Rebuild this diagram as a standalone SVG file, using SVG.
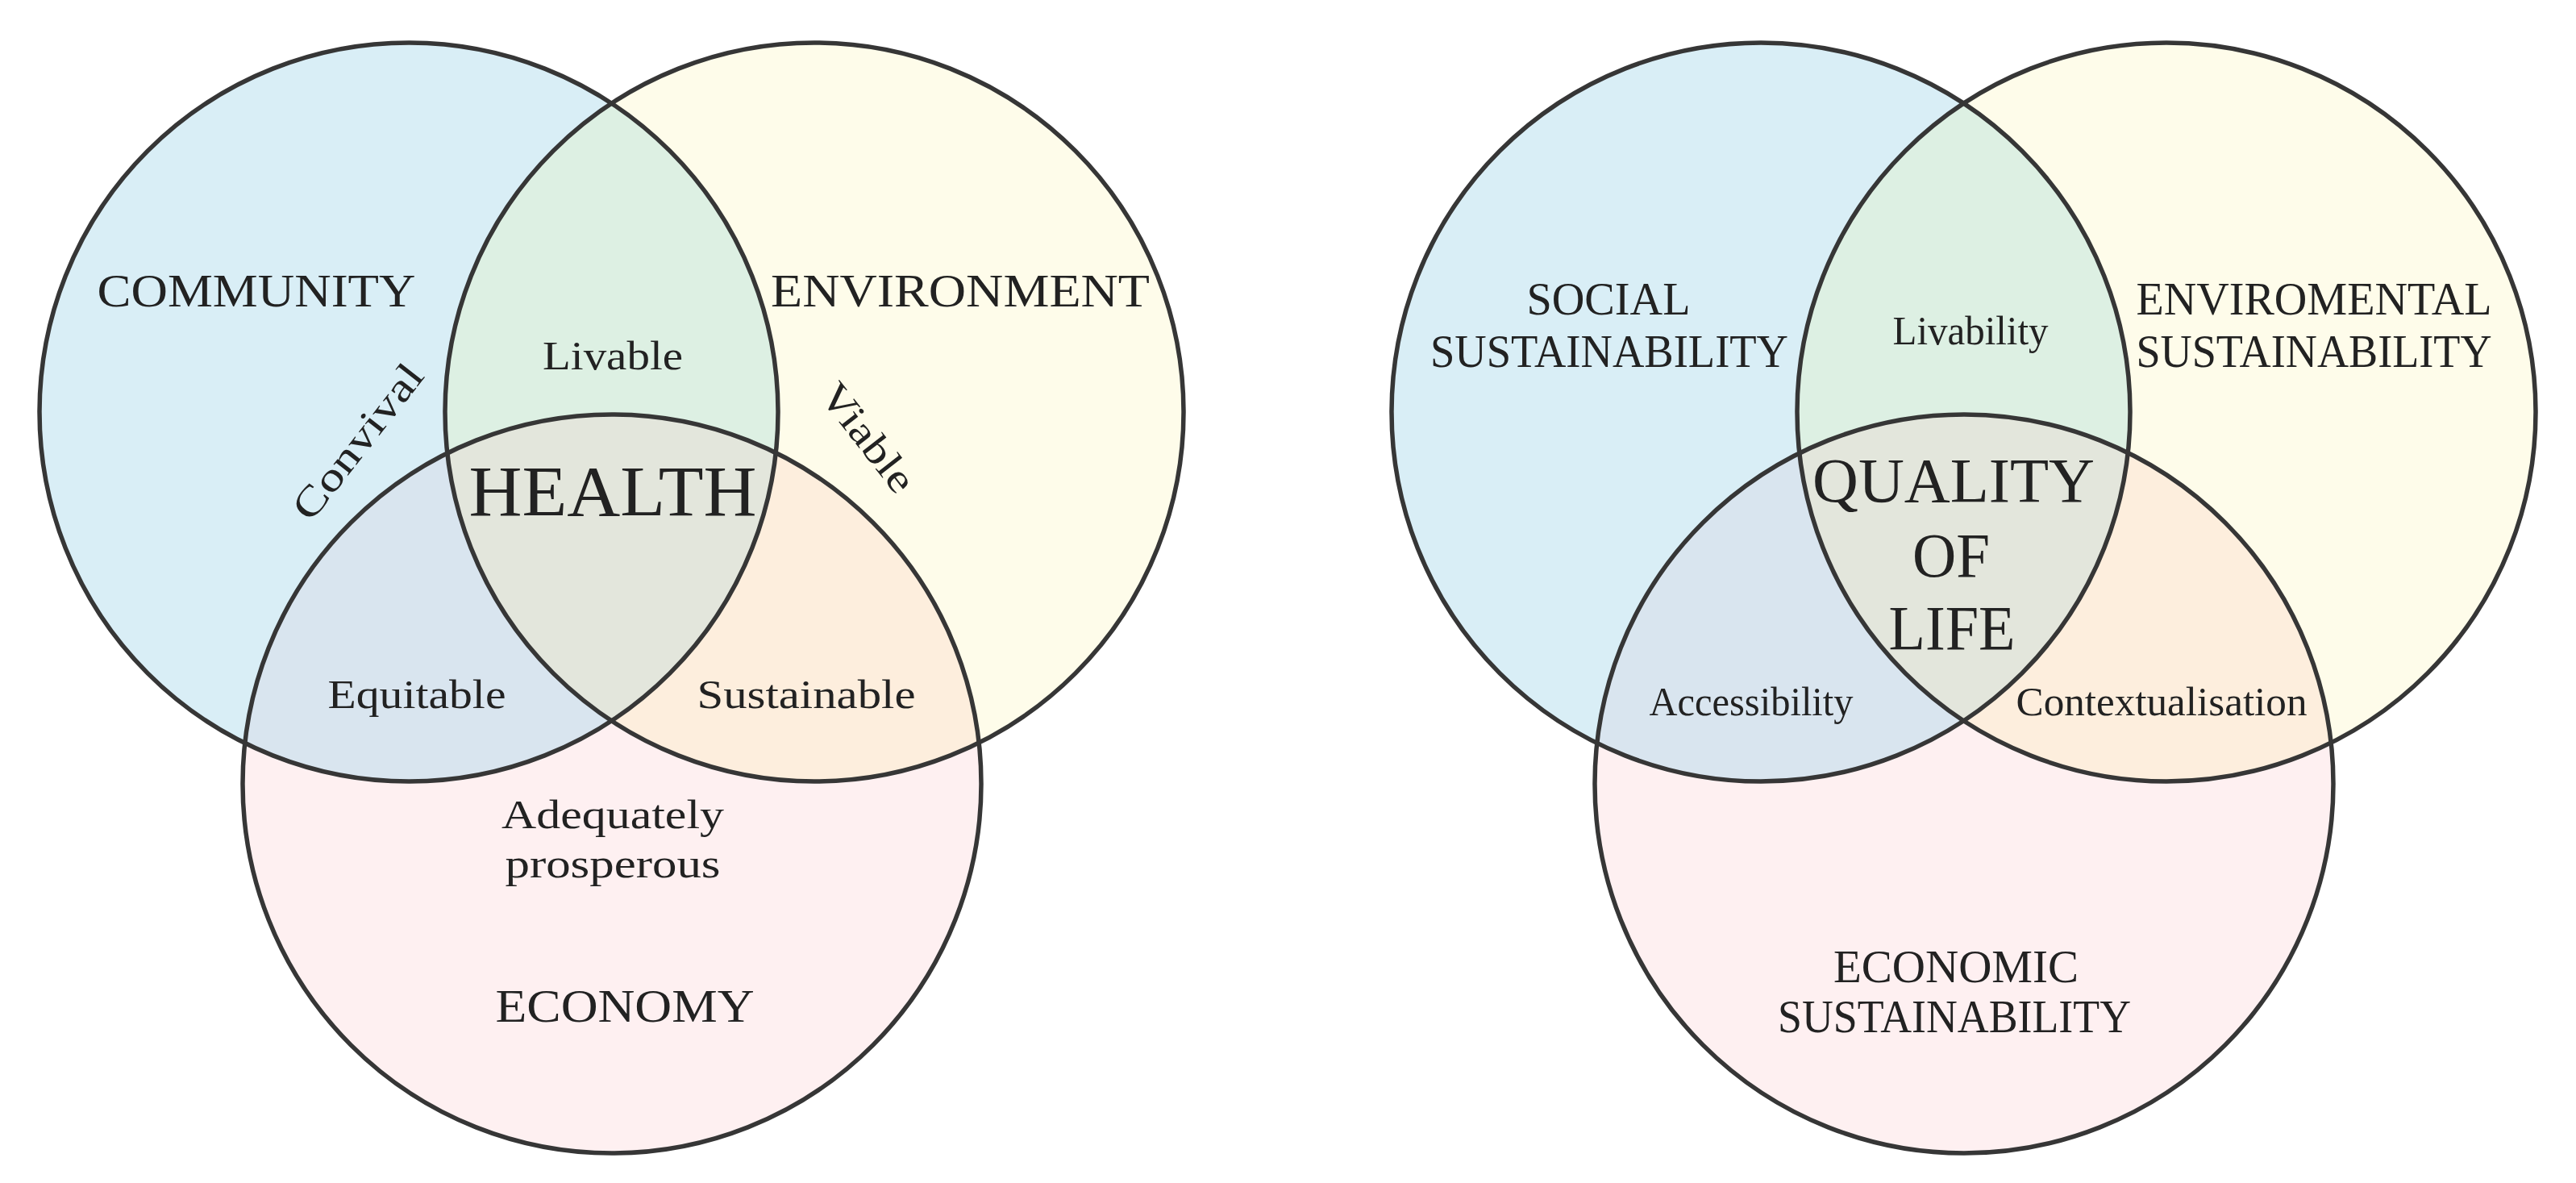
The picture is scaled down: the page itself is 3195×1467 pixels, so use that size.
<svg xmlns="http://www.w3.org/2000/svg" width="3195" height="1467" viewBox="0 0 3195 1467">
<style>
.ring{fill:none;stroke:#363636;stroke-width:5.5}
text{font-family:"Liberation Serif","Times New Roman",serif;fill:#222;text-anchor:middle}
.big{font-size:57px}
.sm{font-size:50px}
.core{font-size:89px}
.core2{font-size:78px}
</style>
<defs>
<clipPath id="lA"><circle cx="507" cy="511" r="458"/></clipPath>
<clipPath id="lB"><circle cx="1010" cy="511" r="458"/></clipPath>
<clipPath id="rA"><circle cx="2184" cy="511" r="458"/></clipPath>
<clipPath id="rB"><circle cx="2687" cy="511" r="458"/></clipPath>
</defs>
<rect width="3195" height="1467" fill="#ffffff"/>

<!-- left diagram fills -->
<g id="left-fills">
<circle cx="507" cy="511" r="458" fill="#d9eef6"/>
<circle cx="1010" cy="511" r="458" fill="#fefcea"/>
<circle cx="759" cy="972" r="458" fill="#fef0f1"/>
<g clip-path="url(#lA)"><circle cx="1010" cy="511" r="458" fill="#ddf0e3"/><circle cx="759" cy="972" r="458" fill="#d9e5ef"/></g>
<g clip-path="url(#lB)"><circle cx="759" cy="972" r="458" fill="#fdeedd"/></g>
<g clip-path="url(#lA)"><g clip-path="url(#lB)"><circle cx="759" cy="972" r="458" fill="#e3e6dc"/></g></g>
</g>

<!-- right diagram fills -->
<g id="right-fills">
<circle cx="2184" cy="511" r="458" fill="#d9eef6"/>
<circle cx="2687" cy="511" r="458" fill="#fefcea"/>
<circle cx="2436" cy="972" r="458" fill="#fef0f1"/>
<g clip-path="url(#rA)"><circle cx="2687" cy="511" r="458" fill="#ddf0e3"/><circle cx="2436" cy="972" r="458" fill="#d9e5ef"/></g>
<g clip-path="url(#rB)"><circle cx="2436" cy="972" r="458" fill="#fdeedd"/></g>
<g clip-path="url(#rA)"><g clip-path="url(#rB)"><circle cx="2436" cy="972" r="458" fill="#e3e6dc"/></g></g>
</g>

<!-- left diagram nodes -->
<g id="community">
<circle class="ring" cx="507" cy="511" r="458"/>
<text class="big" x="318" y="380" textLength="395" lengthAdjust="spacingAndGlyphs">COMMUNITY</text>
</g>
<g id="environment">
<circle class="ring" cx="1010" cy="511" r="458"/>
<text class="big" x="1191" y="380" textLength="470" lengthAdjust="spacingAndGlyphs">ENVIRONMENT</text>
</g>
<g id="economy">
<circle class="ring" cx="759" cy="972" r="458"/>
<text class="big" x="775" y="1267" textLength="321" lengthAdjust="spacingAndGlyphs">ECONOMY</text>
<text class="sm" x="760" y="1027" textLength="276" lengthAdjust="spacingAndGlyphs">Adequately</text>
<text class="sm" x="760" y="1088" textLength="267" lengthAdjust="spacingAndGlyphs">prosperous</text>
</g>
<g id="livable"><text class="sm" x="760" y="458" textLength="174" lengthAdjust="spacingAndGlyphs">Livable</text></g>
<g id="convival"><text class="sm" transform="translate(444 548) rotate(-52)" x="0" y="16" textLength="231" lengthAdjust="spacingAndGlyphs">Convival</text></g>
<g id="viable"><text class="sm" transform="translate(1076 543) rotate(52)" x="0" y="16" textLength="158" lengthAdjust="spacingAndGlyphs">Viable</text></g>
<g id="health"><text class="core" x="760" y="639" textLength="357" lengthAdjust="spacingAndGlyphs">HEALTH</text></g>
<g id="equitable"><text class="sm" x="517" y="878" textLength="221" lengthAdjust="spacingAndGlyphs">Equitable</text></g>
<g id="sustainable"><text class="sm" x="1000" y="878" textLength="271" lengthAdjust="spacingAndGlyphs">Sustainable</text></g>

<!-- right diagram nodes -->
<g id="social-sustainability">
<circle class="ring" cx="2184" cy="511" r="458"/>
<text class="big" x="1995" y="390" textLength="203" lengthAdjust="spacingAndGlyphs">SOCIAL</text>
<text class="big" x="1996" y="455" textLength="444" lengthAdjust="spacingAndGlyphs">SUSTAINABILITY</text>
</g>
<g id="enviromental-sustainability">
<circle class="ring" cx="2687" cy="511" r="458"/>
<text class="big" x="2870" y="390" textLength="441" lengthAdjust="spacingAndGlyphs">ENVIROMENTAL</text>
<text class="big" x="2870" y="455" textLength="441" lengthAdjust="spacingAndGlyphs">SUSTAINABILITY</text>
</g>
<g id="economic-sustainability">
<circle class="ring" cx="2436" cy="972" r="458"/>
<text class="big" x="2426" y="1218" textLength="304" lengthAdjust="spacingAndGlyphs">ECONOMIC</text>
<text class="big" x="2424" y="1280" textLength="438" lengthAdjust="spacingAndGlyphs">SUSTAINABILITY</text>
</g>
<g id="livability"><text class="sm" x="2444" y="427" textLength="193" lengthAdjust="spacingAndGlyphs">Livability</text></g>
<g id="quality-of-life">
<text class="core2" x="2423" y="622" textLength="350" lengthAdjust="spacingAndGlyphs">QUALITY</text>
<text class="core2" x="2420" y="715" textLength="96" lengthAdjust="spacingAndGlyphs">OF</text>
<text class="core2" x="2421" y="805" textLength="157" lengthAdjust="spacingAndGlyphs">LIFE</text>
</g>
<g id="accessibility"><text class="sm" x="2172" y="887" textLength="253" lengthAdjust="spacingAndGlyphs">Accessibility</text></g>
<g id="contextualisation"><text class="sm" x="2681" y="887" textLength="361" lengthAdjust="spacingAndGlyphs">Contextualisation</text></g>
</svg>
